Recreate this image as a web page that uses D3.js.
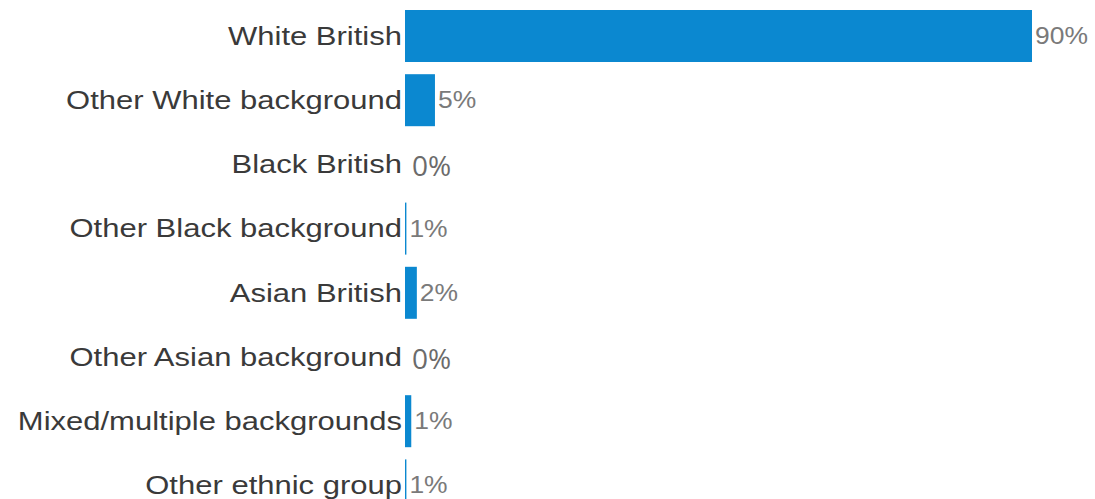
<!DOCTYPE html>
<html>
<head>
<meta charset="utf-8">
<script src="https://cdn.jsdelivr.net/npm/d3@7"></script>
<style>
  html, body { margin: 0; padding: 0; background: #ffffff; }
  svg { display: block; }
</style>
</head>
<body>
<svg id="chart" width="1095" height="499"></svg>
<script>
const categories = [
  "White British",
  "Other White background",
  "Black British",
  "Other Black background",
  "Asian British",
  "Other Asian background",
  "Mixed/multiple backgrounds",
  "Other ethnic group"
];
const values = [90, 4.3, 0, 0.2, 1.7, 0, 0.9, 0.2];
const valueLabels = ["90%", "5%", "0%", "1%", "2%", "0%", "1%", "1%"];

const svg = d3.select("#chart");
const x0 = 405, x1 = 1032;
const x = d3.scaleLinear().domain([0, d3.max(values)]).range([x0, x1]);
const y = d3.scaleBand().domain(categories)
  .range([3.9, 3.9 + 8 * 64.2]).paddingInner(0.19).paddingOuter(0.095);

const barColor = "#0b88d0";

svg.append("g").selectAll("rect").data(categories).join("rect")
  .attr("x", x(0))
  .attr("y", d => y(d))
  .attr("width", (d, i) => Math.max(0, x(values[i]) - x(0)))
  .attr("height", y.bandwidth())
  .attr("fill", barColor);

// category labels
svg.append("g").selectAll("text").data(categories).join("text")
  .attr("transform", d => `translate(${x0 - 3},${y(d) + y.bandwidth() / 2}) scale(1.24,1)`)
  .attr("text-anchor", "end")
  .attr("dy", "0.35em")
  .attr("font-family", "Liberation Sans, Arial, sans-serif")
  .attr("font-size", 25)
  .attr("fill", "#3a3a3a")
  .text(d => d);

// value labels
svg.append("g").selectAll("text").data(categories).join("text")
  .attr("transform", (d, i) => `translate(${x(values[i]) + (values[i] === 0 ? 7 : 3)},${y(d) + y.bandwidth() / 2 + (values[i] === 0 ? 2 : 0)}) scale(${values[i] === 0 ? 1 : 1.15},1)`)
  .attr("dy", "0.35em")
  .attr("font-family", (d, i) => values[i] === 0 ? "Open Sans, sans-serif" : "Liberation Sans, Arial, sans-serif")
  .attr("font-size", (d, i) => values[i] === 0 ? 28 : 23)
  .attr("fill", (d, i) => values[i] === 0 ? "#6b6b6b" : "#7a7a7a")
  .text((d, i) => valueLabels[i]);
</script>
</body>
</html>
